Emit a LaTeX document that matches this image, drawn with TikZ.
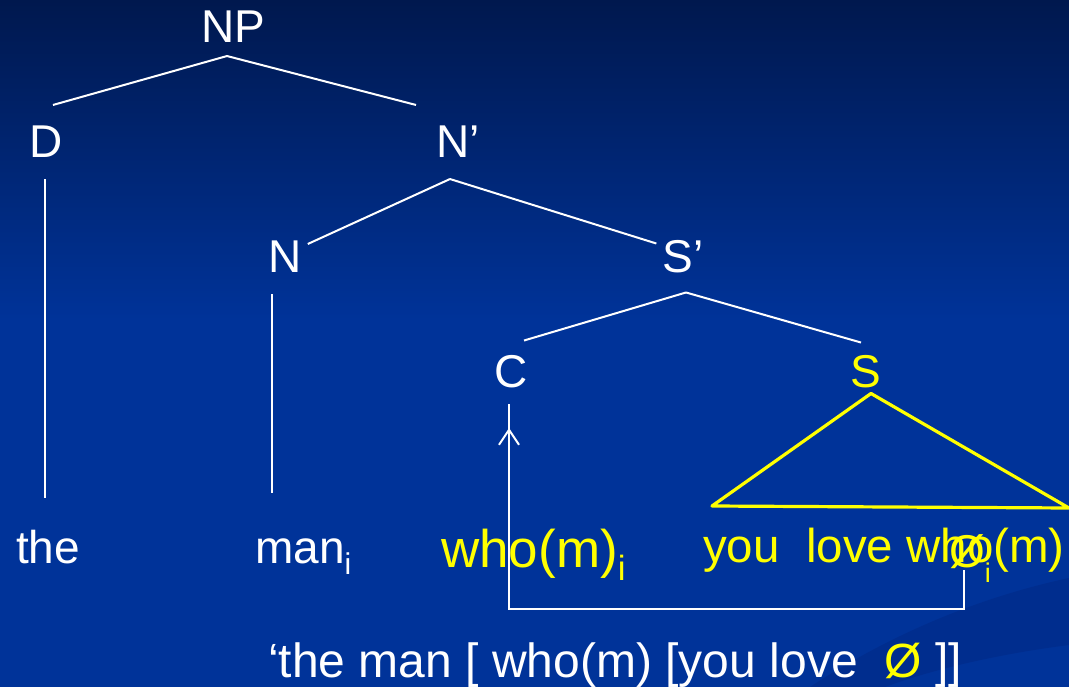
\documentclass[tikz,border=0pt]{standalone}
\usepackage{fontspec}
\setmainfont{Liberation Sans}
\usetikzlibrary{arrows.meta, calc}
\definecolor{bgtop}{RGB}{0,24,78}
\definecolor{bgmain}{RGB}{0,51,153}
\definecolor{bgswoosh}{RGB}{0,45,142}
\definecolor{hilite}{RGB}{255,255,0}
% lowered index letter: size, drop
\newcommand{\subi}[2]{\raisebox{-#2pt}{\fontsize{#1}{#1}\selectfont i}}
\tikzset{
  cat/.style={text=white, inner sep=0pt, font=\fontsize{46}{52}\selectfont},
  ycat/.style={cat, text=hilite},
  branch/.style={draw=white, line width=2pt},
  tri/.style={draw=hilite, line width=3.2pt, line join=round},
  trace/.style={draw=white, line width=2.2pt,
    -{Straight Barb[length=15pt, width=20pt, line width=2pt]}},
}
\begin{document}
\begin{tikzpicture}[x=1pt, y=-1pt]
\useasboundingbox (0,0) rectangle (1069,687);
\shade[top color=bgtop, bottom color=bgmain] (0,0) rectangle (1069,320);
\fill[bgmain] (0,319) rectangle (1069,687);
\fill[bgswoosh] (810,687) .. controls (900,628) and (990,595) .. (1069,578)
  -- (1069,645) .. controls (990,655) and (925,672) .. (885,687) -- cycle;

% categories
\node[cat] (NP) at (233,27) {NP};
\node[cat] (D) at (46,142) {D};
\node[cat] (Nbar) at (458,142) {N’};
\node[cat] (N) at (285,257) {N};
\node[cat] (Sbar) at (683,257) {S’};
\node[cat] (C) at (511,372) {C};
\node[ycat] (S) at (866,372) {S};

% words
\node[cat, anchor=base west] (the) at (16,563) {the};
\node[cat, anchor=base west] (man) at (255,563) {man\subi{30}{11}};
\node[ycat, anchor=base west, font=\fontsize{53}{58}\selectfont] (whom) at (441,567) {who(m)\subi{35}{13}};
\node[ycat, anchor=base west, font=\fontsize{47.5}{52}\selectfont] (yl) at (703,562) {you\ \ love who(m)};
\node[ycat, anchor=base west] (gap) at (949,567) {Ø\subi{27}{15}};
\node[cat, anchor=base west, font=\fontsize{48}{52}\selectfont] (gloss) at (268,677)
  {‘the man [ who(m) [you love\ \ \textcolor{hilite}{Ø} ]]};

\draw[branch] ($(NP.south)+(-6,13)$) -- ($(D.north)+(7,-21)$);
\draw[branch] ($(NP.south)+(-6,13)$) -- ($(Nbar.north)+(-42,-21)$);
\draw[branch] ($(Nbar.south)+(-8,21)$) -- ($(N.north east)+(6,3)$);
\draw[branch] ($(Nbar.south)+(-8,21)$) -- ($(Sbar.north west)+(-6,3)$);
\draw[branch] ($(Sbar.south)+(3,19)$) -- ($(C.north)+(13,-15)$);
\draw[branch] ($(Sbar.south)+(3,19)$) -- ($(S.north)+(-5,-13)$);
\draw[branch] ($(D.south)+(-1,21)$) -- ($(D.south |- the.north)+(-1,-31)$);
\draw[branch] ($(N.south)+(-13,21)$) -- ($(N.south |- man.north)+(-13,-45)$);
\draw[branch] ($(C.south)+(-2,16)$) -- ($(C.south |- whom.north)+(-2,-8)$);

\coordinate (triL) at (712,506);
\coordinate (triR) at (1069,508);
\draw[tri] ($(S.south)+(5,5)$) -- (triL) -- (triR) -- cycle;

\coordinate (land) at (509,428);
\draw[trace] ($(gap.base west)+(15,3)$) -- ++(0,39) -| (land);
\end{tikzpicture}
\end{document}
